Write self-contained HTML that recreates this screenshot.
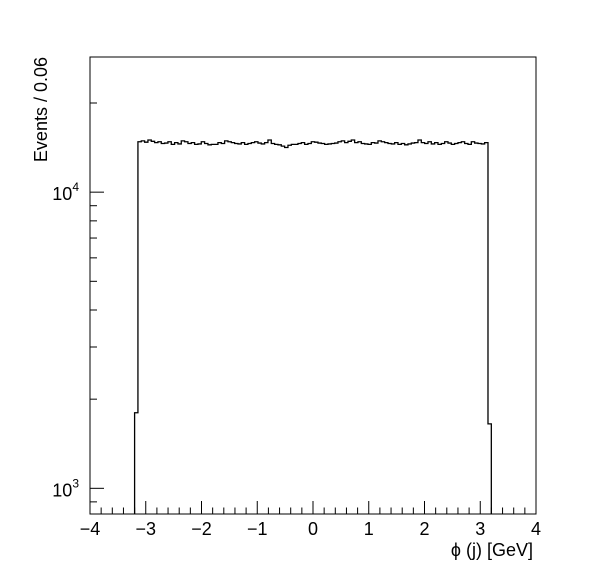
<!DOCTYPE html>
<html><head><meta charset="utf-8"><style>
body{margin:0;background:#fff;}
svg text{font-family:"Liberation Sans",sans-serif;fill:#000;}
</style></head><body>
<svg id="c" width="596" height="572" xmlns="http://www.w3.org/2000/svg"></svg>
<script>
const binLow = -3.2;
const binWidth = 0.0598;
const counts = [1800,
14800,14900,14750,15000,14850,14700,14800,14600,14650,14800,
14500,14700,14550,14900,14800,14600,14700,14500,14550,14800,
14600,14450,14500,14500,14700,14600,14900,14800,14700,14600,
14550,14700,14500,14600,14700,14800,14650,14550,14700,15000,
14600,14500,14450,14300,14150,14400,14500,14500,14600,14700,
14500,14600,14800,14750,14650,14600,14500,14550,14600,14650,
14800,14900,14700,14850,15000,14700,14800,14600,14550,14500,
14700,14650,14900,14800,14700,14600,14550,14700,14500,14600,
14450,14550,14650,14700,15000,14700,14600,14800,14550,14700,
14500,14600,14800,14650,14500,14600,14700,14800,14600,14500,
14800,14650,14600,14550,14700,
1650];
const xTicks = [-4,-3,-2,-1,0,1,2,3,4];
const xTickLabels = ["\u22124","\u22123","\u22122","\u22121","0","1","2","3","4"];
const yMajor = [1000,10000];
const yMinor = [900,2000,3000,4000,5000,6000,7000,8000,9000,20000];

const L=90,R=536,T=57,B=514;
const xMin=-4,xMax=4,yMin=819,yMax=28600;
const X=v=>L+(v-xMin)/(xMax-xMin)*(R-L);
const Y=v=>B-(Math.log10(v)-Math.log10(yMin))/(Math.log10(yMax)-Math.log10(yMin))*(B-T);
const svg=document.getElementById('c');
const NS='http://www.w3.org/2000/svg';
function mk(t,a){const e=document.createElementNS(NS,t);for(const k in a)e.setAttribute(k,a[k]);svg.appendChild(e);return e;}

const frame=mk('rect',{x:L,y:T,width:R-L,height:B-T,fill:'none',stroke:'#000','stroke-width':1});



let d='M'+X(binLow)+','+B;
counts.forEach((c,i)=>{const x0=X(binLow+i*binWidth),x1=X(binLow+(i+1)*binWidth);d+=' L'+x0+','+Y(c)+' L'+x1+','+Y(c);});
d+=' L'+X(binLow+counts.length*binWidth)+','+B;
const h=mk('path',{d:d,fill:'none',stroke:'#000','stroke-width':1.3});



for(let v=-4;v<=4.001;v+=0.2){const major=Math.abs(v-Math.round(v))<1e-6;const x=X(v);
 const t=mk('line',{x1:x,x2:x,y1:B,y2:B-(major?13:6.5),stroke:'#000'});
 
 }
xTicks.forEach((v,i)=>{const t=mk('text',{x:X(v),y:B+21,'font-size':18,'text-anchor':'middle'});t.textContent=xTickLabels[i];
 
 });
yMajor.forEach(v=>{const y=Y(v);const t=mk('line',{x1:L,x2:L+14,y1:y,y2:y,stroke:'#000'});
 
 
 const lb=mk('text',{x:L-11,y:y+8,'font-size':18,'text-anchor':'end'});
 lb.innerHTML='10<tspan dy="-9" font-size="12">'+Math.round(Math.log10(v))+'</tspan>';
 
 });
yMinor.forEach(v=>{const y=Y(v);const t=mk('line',{x1:L,x2:L+7,y1:y,y2:y,stroke:'#000'});
 
 });

const xt=mk('text',{x:533,y:556,'font-size':18,'text-anchor':'end'});xt.textContent='\u03d5 (j) [GeV]';


const yt=mk('text',{x:0,y:0,'font-size':18,'text-anchor':'end',transform:'translate(47,57) rotate(-90)'});yt.textContent='Events / 0.06';


</script>
</body></html>
